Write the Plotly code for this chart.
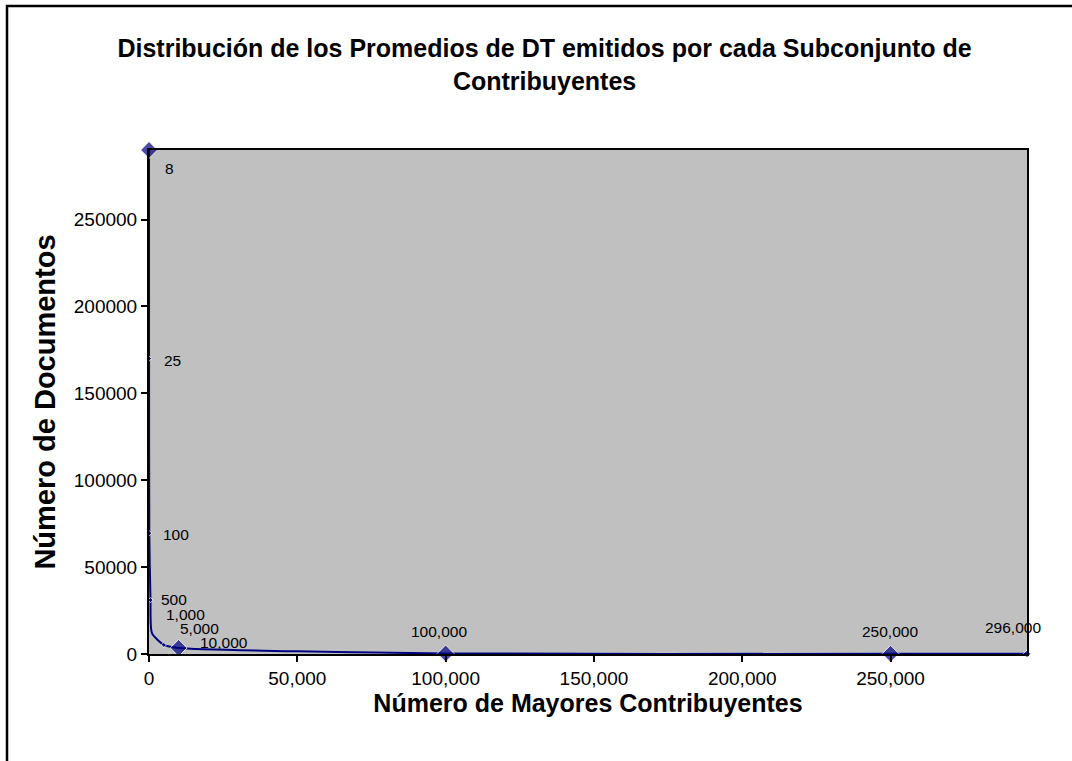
import plotly.graph_objects as go

# Data
contribuyentes = [8, 25, 100, 500, 1000, 5000, 10000, 100000, 250000, 296000]
documentos = [290000, 170000, 69500, 31000, 12000, 5200, 3500, 300, 120, 100]
point_labels = ["8", "25", "100", "500", "1,000", "5,000", "10,000", "100,000", "250,000", "296,000"]
marker_sizes = [13, 4, 4, 4, 0, 4, 13, 13, 13, 6]

# label offsets (pixels) relative to each point
label_dx = [20, 23, 27, 24, 34, 36, 45, -7, -1, -14]
label_dy = [-18, -2, -1, 1, 19, 16, 5, 22, 22, 26]

x_ticks = [0, 50000, 100000, 150000, 200000, 250000]
x_tick_text = ["0", "50,000", "100,000", "150,000", "200,000", "250,000"]
y_ticks = [0, 50000, 100000, 150000, 200000, 250000]
y_tick_text = ["0", "50000", "100000", "150000", "200000", "250000"]

navy = "#000080"
font_family = "Liberation Sans, Arial, sans-serif"

fig = go.Figure()
fig.add_trace(go.Scatter(
    x=contribuyentes, y=documentos,
    mode="lines+markers",
    line=dict(color=navy, width=2, shape="spline", smoothing=0.6),
    marker=dict(symbol="diamond", size=marker_sizes, color=navy),
    cliponaxis=False,
    showlegend=False,
    hoverinfo="x+y",
))

for xv, yv, t, dx, dy in zip(contribuyentes, documentos, point_labels, label_dx, label_dy):
    fig.add_annotation(
        x=xv, y=yv, xref="x", yref="y", text=t, showarrow=False,
        xshift=dx, yshift=dy,
        font=dict(family=font_family, size=15.5, color="black"),
    )

fig.update_layout(
    width=1072, height=761, autosize=False,
    margin=dict(l=149, r=45, t=150, b=107),
    paper_bgcolor="white",
    plot_bgcolor="#C0C0C0",
    font=dict(family=font_family, color="black"),
    title=dict(
        text="<b>Distribución de los Promedios de DT emitidos por cada Subconjunto de<br>Contribuyentes</b>",
        x=0.508, xref="container", xanchor="center",
        y=1 - 57 / 761, yref="container", yanchor="middle",
        font=dict(family=font_family, size=25, color="black"),
    ),
    xaxis=dict(
        range=[0, 296000],
        tickvals=x_ticks, ticktext=x_tick_text,
        ticks="outside", ticklen=6, tickcolor="black", tickwidth=1.5,
        showgrid=False, zeroline=False,
        showline=True, linecolor="black", linewidth=2, mirror=True,
        tickfont=dict(family=font_family, size=19),
        title=dict(text="<b>Número de Mayores Contribuyentes</b>",
                   font=dict(family=font_family, size=25), standoff=6),
    ),
    yaxis=dict(
        range=[0, 290000],
        tickvals=y_ticks, ticktext=y_tick_text,
        ticks="outside", ticklen=6, tickcolor="black", tickwidth=1.5,
        showgrid=False, zeroline=False,
        showline=True, linecolor="black", linewidth=2, mirror=True,
        tickfont=dict(family=font_family, size=19),
        title=dict(text="<b>Número de Documentos</b>",
                   font=dict(family=font_family, size=29), standoff=10),
    ),
    shapes=[dict(
        type="rect", xref="paper", yref="paper",
        x0=(7 - 149) / 878, x1=1.2, y0=-0.4, y1=(654 - 6) / 504,
        line=dict(color="black", width=2.5), layer="below",
    )],
)

fig.write_html("out.html", config={"displayModeBar": False},
               post_script="document.body.style.margin='0px';")
